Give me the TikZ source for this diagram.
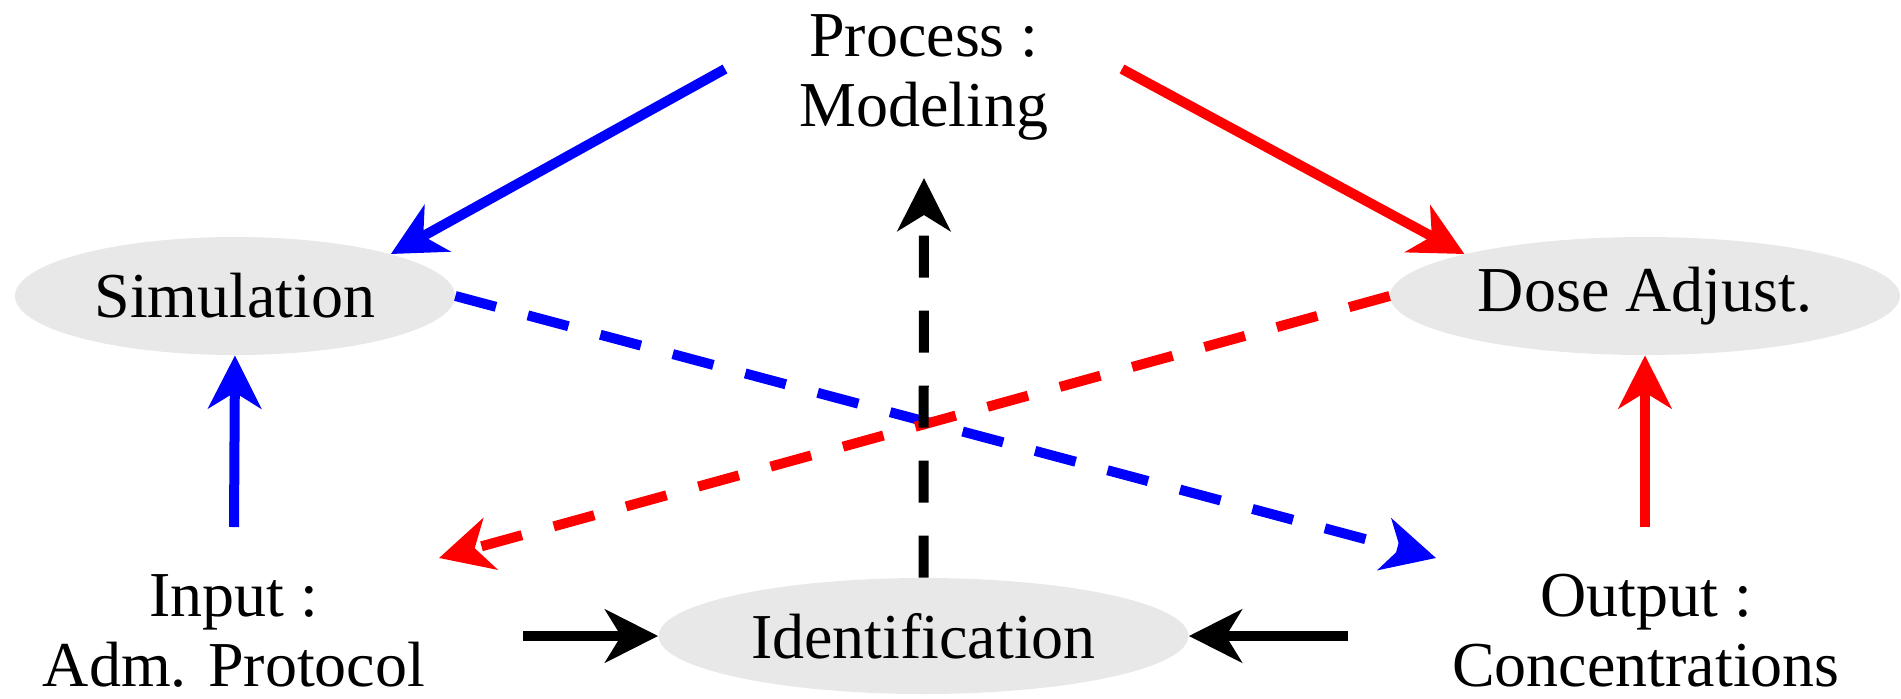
\documentclass[tikz,border=0pt]{standalone}
\usepackage{fontspec}
\setmainfont{Liberation Serif}
\usetikzlibrary{arrows.meta,shapes.geometric}
\definecolor{ellgray}{RGB}{232,232,232}
\tikzset{
  lbl/.style={font=\fontsize{32pt}{35pt}\selectfont, align=center, inner sep=0pt},
  ell/.style={ellipse, fill=ellgray, draw=none, inner sep=0pt, font=\fontsize{32pt}{35pt}\selectfont},
  conn/.style={line width=5pt, -{Stealth[length=26.5pt, width=26.5pt, inset=8pt]}},
  dsh/.style={conn, dash pattern=on 21pt off 16.5pt},
}
\begin{document}
\begin{tikzpicture}[x=0.5pt, y=-0.5pt]
\useasboundingbox (0,0) rectangle (1901,698);
% nodes
\node[lbl] (proc) at (924,77) {Process :\\Modeling};
\node[ell, minimum width=220pt, minimum height=59pt] (sim) at (235,296) {Simulation};
\node[ell, minimum width=255pt, minimum height=59pt] (dose) at (1645,296) {Dose Adjust.};
\node[ell, minimum width=265pt, minimum height=58pt] (ident) at (923.5,636) {Identification};
\node[lbl] (inp) at (234,631) {Input :\\Adm. Protocol};
\node[lbl] (outp) at (1646,631) {Output :\\Concentrations};
% free ends
\coordinate (procW) at (725,69);
\coordinate (procE) at (1122,69);
\coordinate (procS) at (924,178);
\coordinate (inpN) at (234,527);
\coordinate (outpN) at (1645,527);
\coordinate (inpE) at (523,636);
\coordinate (outpW) at (1348,636);
\coordinate (inpNE) at (439,558);
\coordinate (outpNW) at (1436,558);
% connectors
\draw[conn, blue] (procW) -- (sim.north east);
\draw[conn, red] (procE) -- (dose.north west);
\draw[conn, blue] (inpN) -- (sim.south);
\draw[conn, red] (outpN) -- (dose.south);
\draw[conn, black] (inpE) -- (ident.west);
\draw[conn, black] (outpW) -- (ident.east);
\draw[dsh, blue] (sim.east) -- (outpNW);
\draw[dsh, red] (dose.west) -- (inpNE);
\draw[dsh, black] (ident.north) -- (procS);
\end{tikzpicture}
\end{document}
